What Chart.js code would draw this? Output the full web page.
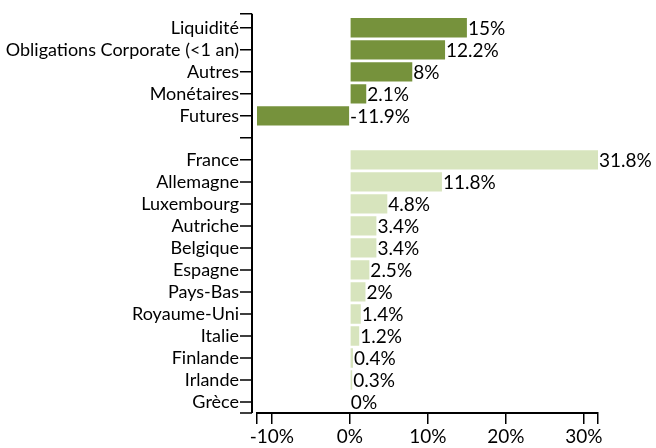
<!DOCTYPE html>
<html>
<head>
<meta charset="utf-8">
<script src="https://cdn.jsdelivr.net/npm/chart.js@4"></script>
<style>
  html, body { margin: 0; background: #fff; }
  #wrap { width: 656px; height: 448px; }
</style>
</head>
<body>
<div id="wrap"><canvas id="chart"></canvas></div>
<script>
// allocation first, then country breakdown (blank row separates them)
const categories = [
  'Liquidité', 'Obligations Corporate (<1 an)', 'Autres', 'Monétaires', 'Futures',
  '',
  'France', 'Allemagne', 'Luxembourg', 'Autriche', 'Belgique', 'Espagne',
  'Pays-Bas', 'Royaume-Uni', 'Italie', 'Finlande', 'Irlande', 'Grèce'
];
const values = [15, 12.2, 8, 2.1, -11.9, null, 31.8, 11.8, 4.8, 3.4, 3.4, 2.5, 2, 1.4, 1.2, 0.4, 0.3, 0];
const groups = ['a', 'a', 'a', 'a', 'a', '', 'p', 'p', 'p', 'p', 'p', 'p', 'p', 'p', 'p', 'p', 'p', 'p'];
const xMin = -11.9;
const xMax = 31.8;
const xTicks = [-10, 0, 10, 20, 30];

const darkGreen = '#76923C';
const lightGreen = '#D7E4BD';
const font = 'Lato, "Open Sans", sans-serif';
const yGap = 5; // y axis line sits a little left of the plot

const valueLabels = {
  id: 'valueLabels',
  afterDatasetsDraw(chart) {
    const ctx = chart.ctx;
    const meta = chart.getDatasetMeta(0);
    ctx.save();
    ctx.font = '19px ' + font;
    ctx.fillStyle = '#000';
    ctx.textBaseline = 'middle';
    ctx.textAlign = 'left';
    meta.data.forEach((bar, i) => {
      const v = values[i];
      if (v === null) return;
      const x = v >= 0 ? bar.x : bar.base;
      ctx.fillText(v + '%', x + 1, bar.y + 1);
    });
    ctx.restore();
  }
};

// the category axis line + its tick marks, drawn by hand
const yAxisLine = {
  id: 'yAxisLine',
  afterDraw(chart) {
    const ctx = chart.ctx;
    const a = chart.chartArea;
    const y = chart.scales.y;
    const x0 = a.left - yGap;
    const top = a.top - 3;
    ctx.save();
    ctx.strokeStyle = '#000';
    ctx.lineWidth = 2;
    ctx.beginPath();
    ctx.moveTo(x0, top);
    ctx.lineTo(x0, a.bottom);
    ctx.stroke();
    ctx.lineWidth = 1.5;
    ctx.beginPath();
    const marks = [top, a.bottom];
    categories.forEach((c, i) => marks.push(y.getPixelForTick(i)));
    marks.forEach(p => {
      ctx.moveTo(x0 - 12, p);
      ctx.lineTo(x0, p);
    });
    ctx.stroke();
    ctx.restore();
  }
};

new Chart(document.getElementById('chart'), {
  type: 'bar',
  data: {
    labels: categories,
    datasets: [{
      data: values,
      backgroundColor: groups.map(g => g === 'a' ? darkGreen : lightGreen),
      borderWidth: 0,
      barPercentage: 0.88,
      categoryPercentage: 1
    }]
  },
  options: {
    indexAxis: 'y',
    responsive: true,
    maintainAspectRatio: false,
    animation: false,
    layout: { padding: { top: 15, right: 58, left: 0, bottom: 0 } },
    plugins: {
      legend: { display: false },
      tooltip: { enabled: false }
    },
    scales: {
      y: {
        type: 'category',
        offset: true,
        border: { display: false },
        grid: { offset: false, drawOnChartArea: false, tickLength: 12, color: 'rgba(0,0,0,0)' },
        ticks: { color: '#000', font: { family: font, size: 18 }, padding: 1 + yGap, autoSkip: false },
        afterFit(scale) { scale.width = 257; }
      },
      x: {
        type: 'linear',
        min: xMin,
        max: xMax,
        border: { color: '#000', width: 2 },
        grid: { drawOnChartArea: false, tickLength: 11, color: '#000', lineWidth: 1.5 },
        afterBuildTicks(scale) {
          scale.ticks = [xMin, ...xTicks, xMax].map(v => ({ value: v }));
        },
        ticks: {
          color: '#000',
          font: { family: font, size: 19 },
          padding: 1,
          maxRotation: 0,
          autoSkip: false,
          callback: v => xTicks.includes(v) ? v + '%' : ''
        },
        afterFit(scale) { scale.height = 35; }
      }
    }
  },
  plugins: [valueLabels, yAxisLine]
});
</script>
</body>
</html>
